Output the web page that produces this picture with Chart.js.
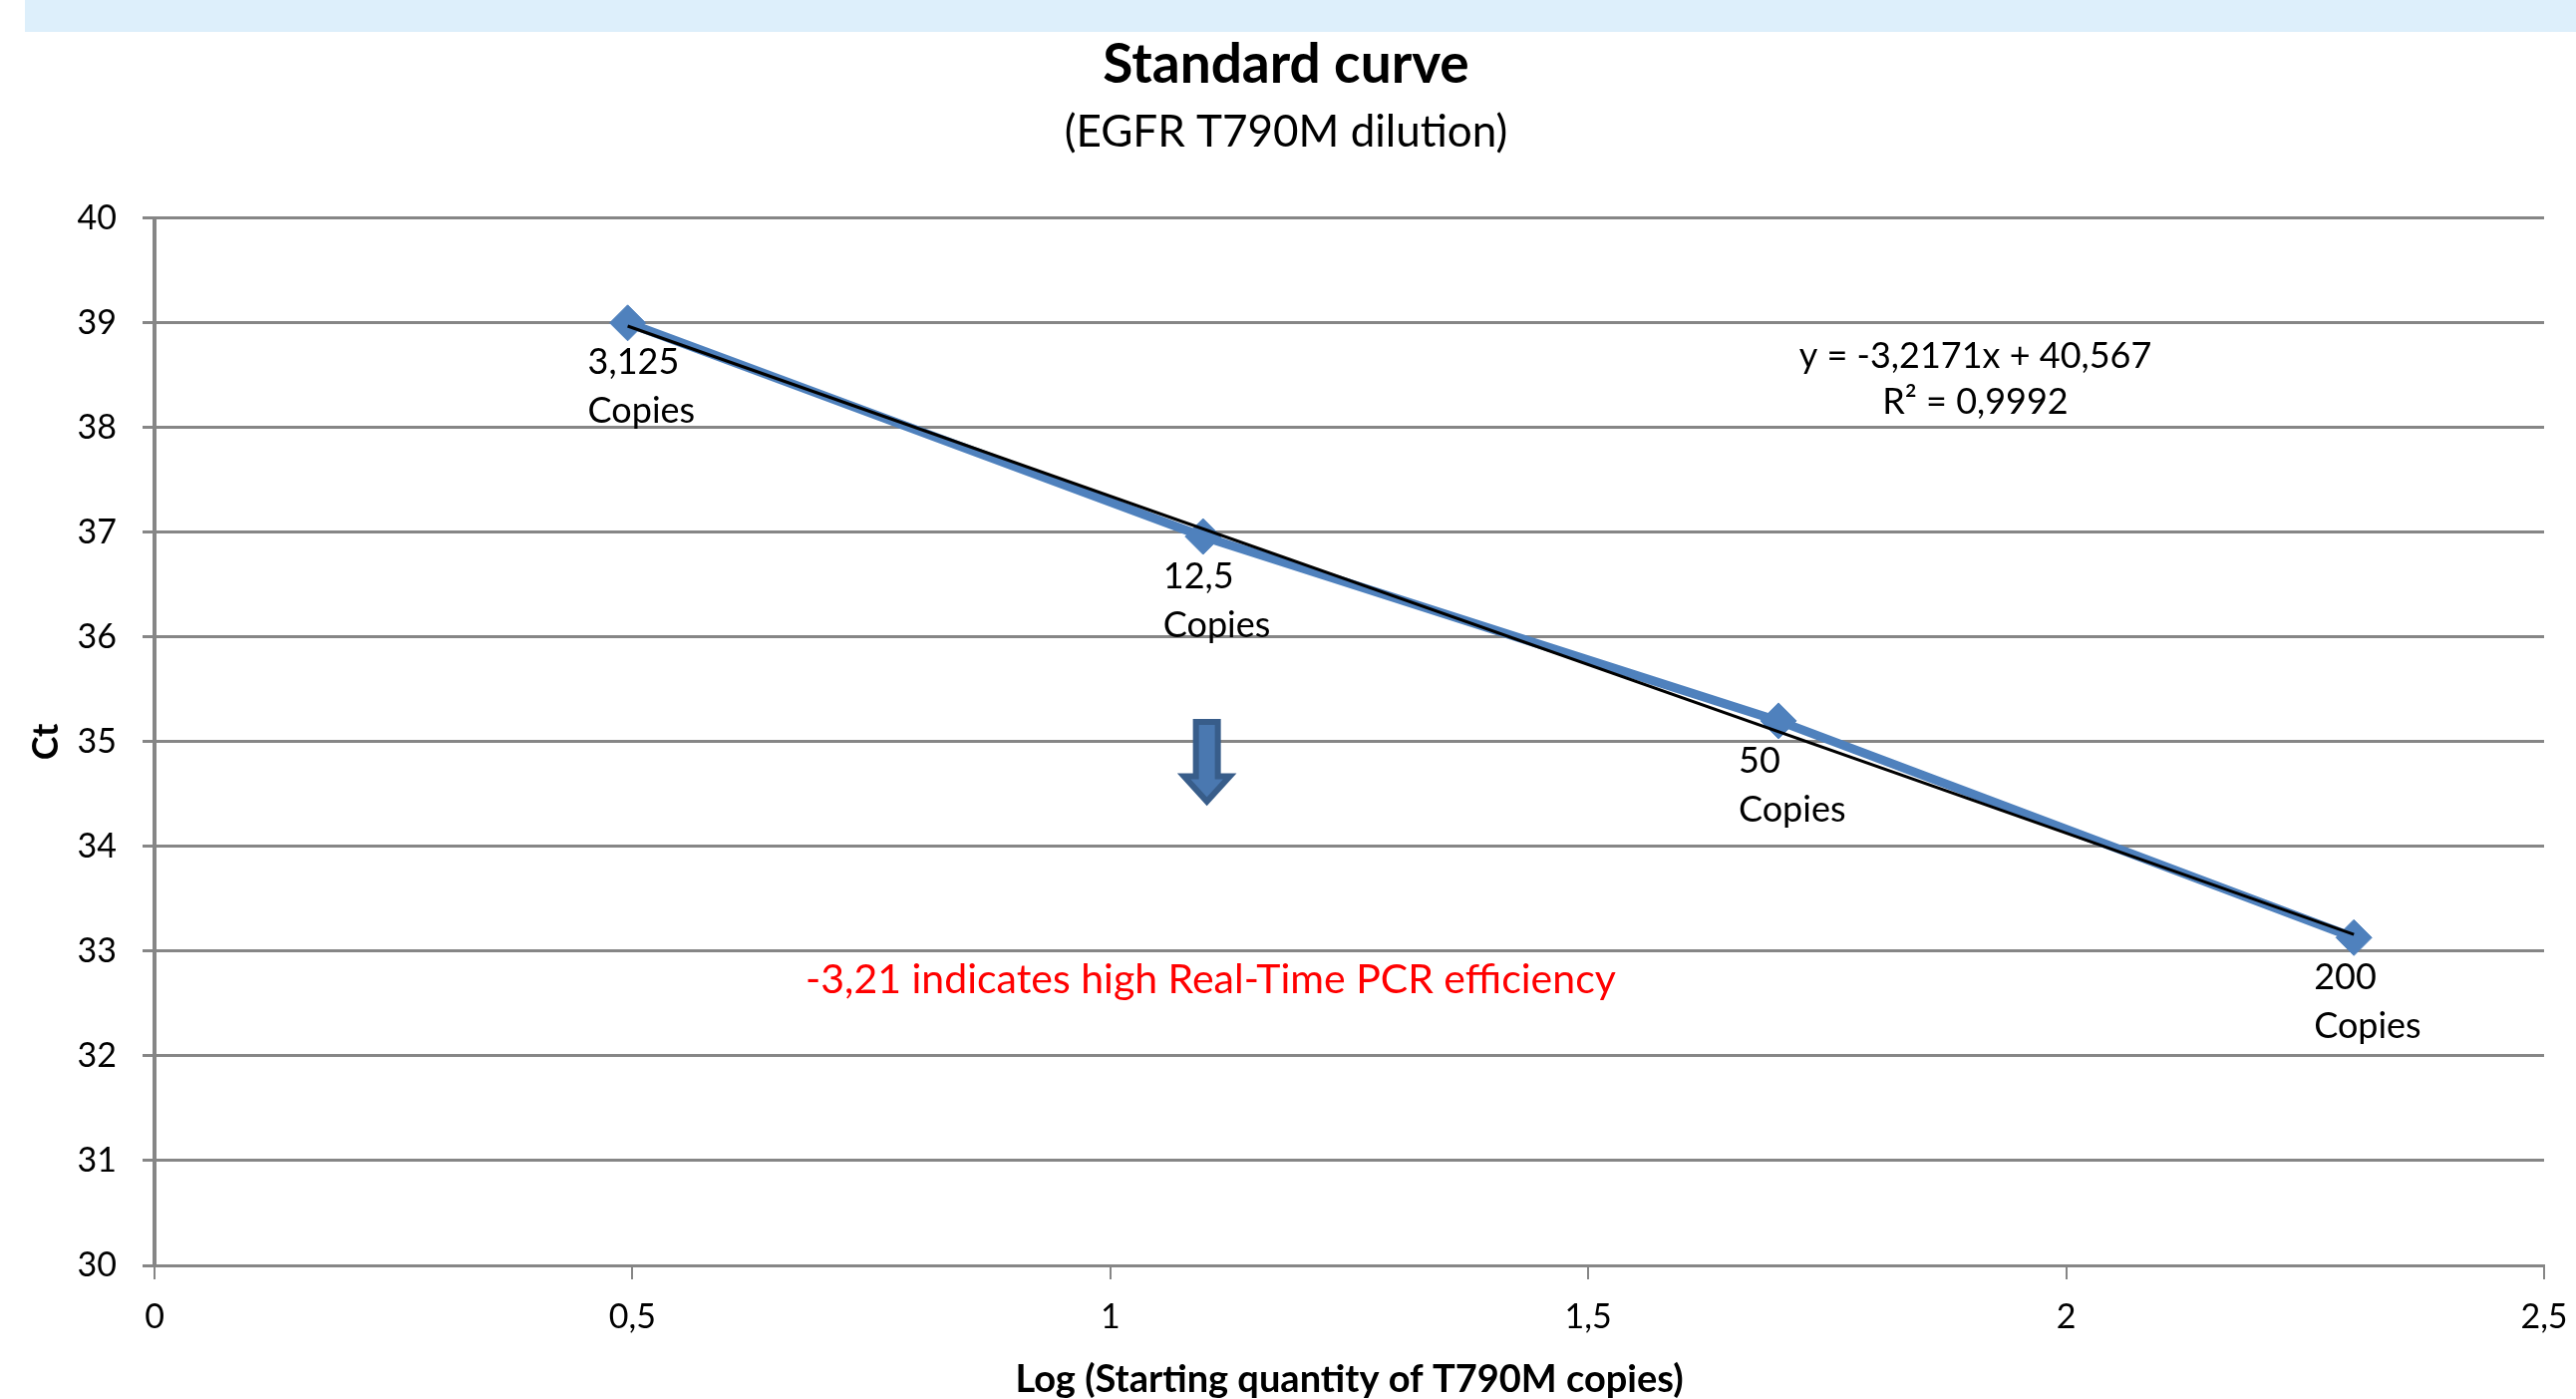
<!DOCTYPE html>
<html>
<head>
<meta charset="utf-8">
<script src="https://cdn.jsdelivr.net/npm/chart.js@4.4.1/dist/chart.umd.min.js"></script>
<style>
  html, body { margin: 0; padding: 0; background: #fff; }
  #faixa { position: absolute; left: 25px; top: 0; width: 2559px; height: 32px; background: #ddeffb; }
  canvas { display: block; }
</style>
</head>
<body>
<div id="faixa"></div>
<canvas id="grafico" width="2584" height="1403"></canvas>
<script>
// ==========================
// DADOS
// ==========================
const logQty = [0.495, 1.097, 1.699, 2.301];
const ctValues = [39.0, 36.96, 35.2, 33.13];
const copyLabels = ["3,125", "12,5", "50", "200"];

// linha de tendencia
const trendX = [0.495, 2.301];
const trendY = [38.97, 33.16];

const xTickLabels = ["0", "0,5", "1", "1,5", "2", "2,5"];
const yTickLabels = ["30", "31", "32", "33", "34", "35", "36", "37", "38", "39", "40"];

const equacao = ["y = -3,2171x + 40,567", "R\u00B2 = 0,9992"];
const nota = "-3,21 indicates high Real-Time PCR efficiency";

// ==========================
// CORES / POSICOES
// ==========================
const CINZA = "#868686";
const AZUL = "#4f81bd";
const AZUL_ESCURO = "#385d8a";

Chart.defaults.font.family = "Lato";
Chart.defaults.color = "#000";

// anotacoes (coordenadas em unidades dos eixos)
const posEquacao = { x: 1.905, y1: 38.68, y2: 38.24 };
const posNota = { x: 1.105, y: 32.73 };
const posSeta = { x: 1.101, topo: 35.19, base: 34.67, ponta: 34.43 };

const anotacoes = {
  id: "anotacoes",
  afterDatasetsDraw(chart) {
    const ctx = chart.ctx;
    const sx = chart.scales.x;
    const sy = chart.scales.y;
    ctx.save();

    // rotulos dos pontos
    const meta = chart.getDatasetMeta(1);
    ctx.font = "36px Lato";
    ctx.fillStyle = "#000";
    ctx.textAlign = "left";
    ctx.textBaseline = "middle";
    meta.data.forEach((p, i) => {
      ctx.fillText(copyLabels[i], p.x - 40, p.y + 40);
      ctx.fillText("Copies", p.x - 40, p.y + 89);
    });

    // equacao
    ctx.textAlign = "center";
    ctx.font = "36px Lato";
    ctx.fillText(equacao[0], sx.getPixelForValue(posEquacao.x), sy.getPixelForValue(posEquacao.y1));
    ctx.fillText(equacao[1], sx.getPixelForValue(posEquacao.x), sy.getPixelForValue(posEquacao.y2));

    // nota vermelha
    ctx.fillStyle = "#ff0000";
    ctx.font = "41px Lato";
    ctx.fillText(nota, sx.getPixelForValue(posNota.x), sy.getPixelForValue(posNota.y));

    // seta
    const ax = sx.getPixelForValue(posSeta.x);
    const y0 = sy.getPixelForValue(posSeta.topo);
    const y1 = sy.getPixelForValue(posSeta.base);
    const y2 = sy.getPixelForValue(posSeta.ponta);
    ctx.beginPath();
    ctx.moveTo(ax - 11, y0);
    ctx.lineTo(ax + 11, y0);
    ctx.lineTo(ax + 11, y1);
    ctx.lineTo(ax + 23, y1);
    ctx.lineTo(ax, y2);
    ctx.lineTo(ax - 23, y1);
    ctx.lineTo(ax - 11, y1);
    ctx.closePath();
    ctx.fillStyle = "#4a78b0";
    ctx.fill();
    ctx.lineWidth = 6;
    ctx.strokeStyle = AZUL_ESCURO;
    ctx.stroke();

    ctx.restore();
  }
};

// ==========================
// GRAFICO
// ==========================
const ctx = document.getElementById("grafico").getContext("2d");

new Chart(ctx, {
  type: "scatter",
  data: {
    datasets: [
      {
        label: "Tendencia",
        data: trendX.map((v, i) => ({ x: v, y: trendY[i] })),
        showLine: true,
        borderColor: "#000",
        borderWidth: 3,
        pointRadius: 0,
        order: 0
      },
      {
        label: "Ct",
        data: logQty.map((v, i) => ({ x: v, y: ctValues[i] })),
        showLine: true,
        borderColor: AZUL,
        borderWidth: 9,
        pointStyle: "rectRot",
        pointRadius: 18,
        pointBackgroundColor: AZUL,
        pointBorderColor: AZUL,
        pointBorderWidth: 1,
        order: 1
      }
    ]
  },
  options: {
    responsive: false,
    animation: false,
    layout: { padding: { left: 28, right: 32, top: 0, bottom: 0 } },
    plugins: {
      legend: { display: false },
      tooltip: { enabled: false },
      title: {
        display: true,
        text: "Standard curve",
        font: { size: 55, weight: "bold" },
        color: "#000",
        padding: { top: 32, bottom: 0 }
      },
      subtitle: {
        display: true,
        text: "(EGFR T790M dilution)",
        font: { size: 44 },
        color: "#000",
        padding: { top: 8, bottom: 60 }
      }
    },
    scales: {
      x: {
        type: "linear",
        min: 0,
        max: 2.5,
        ticks: {
          stepSize: 0.5,
          font: { size: 34 },
          color: "#000",
          padding: 18,
          callback: (v, i) => xTickLabels[i]
        },
        grid: {
          drawOnChartArea: false,
          drawTicks: true,
          tickLength: 14,
          color: CINZA,
          lineWidth: 2
        },
        border: { display: true, color: CINZA, width: 3 },
        title: {
          display: true,
          text: "Log (Starting quantity of T790M copies)",
          font: { size: 38, weight: "bold", lineHeight: 1 },
          color: "#000",
          padding: 0
        },
        afterFit: (s) => {
          s.height = 134;
          s.paddingLeft = 0;
          s.paddingRight = 0;
        }
      },
      y: {
        min: 30,
        max: 40,
        ticks: {
          stepSize: 1,
          font: { size: 34 },
          color: "#000",
          padding: 26,
          callback: (v, i) => yTickLabels[i]
        },
        grid: {
          color: CINZA,
          lineWidth: 3,
          tickLength: 12
        },
        border: { display: true, color: CINZA, width: 4 },
        title: {
          display: true,
          text: "Ct",
          font: { size: 36, weight: "bold", lineHeight: 1 },
          color: "#000",
          padding: { top: 0, bottom: 0 }
        },
        afterFit: (s) => { s.width = 127; }
      }
    }
  },
  plugins: [anotacoes]
});
</script>
</body>
</html>
